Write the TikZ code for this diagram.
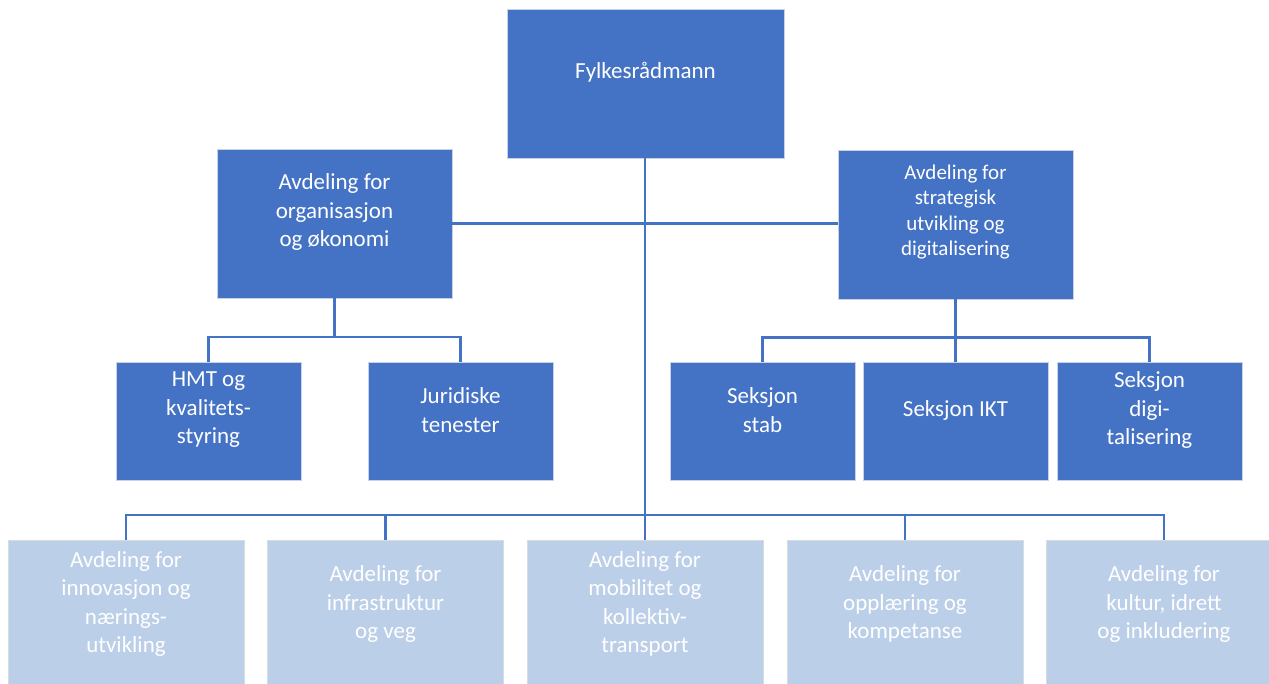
\documentclass[tikz,border=0pt]{standalone}
\usepackage{fontspec}
\setmainfont{Carlito}
\definecolor{dkblue}{HTML}{4472C4}
\definecolor{ltblue}{HTML}{BCCFE8}
\definecolor{rim}{HTML}{C8D2E4}
\definecolor{lrim}{HTML}{D6DCE4}
\begin{document}
\begin{tikzpicture}[x=1pt,y=-1pt,
  dbox/.style={draw=rim, line width=0.8pt, fill=dkblue, inner sep=0pt, outer sep=0pt},
  lbox/.style={draw=lrim, line width=0.8pt, fill=ltblue, inner sep=0pt, outer sep=0pt,
    minimum width=236pt, minimum height=148pt},
  txt/.style={text=white, align=center, inner sep=0pt, font=\fontsize{23}{28.5}\selectfont},
  stxt/.style={text=white, align=center, inner sep=0pt, font=\fontsize{21}{25.5}\selectfont},
  conn/.style={draw=dkblue, line width=2.4pt}]
\useasboundingbox (0,0) rectangle (1269,683);
% boxes
\node[dbox, minimum width=277pt, minimum height=149pt] (top) at (645.5,83.5) {};
\node[dbox, minimum width=235pt, minimum height=149pt] (L) at (334.5,223.5) {};
\node[dbox, minimum width=235pt, minimum height=149pt] (R) at (955.5,224.5) {};
\node[dbox, minimum width=185pt, minimum height=118pt] (hmt) at (208.5,421) {};
\node[dbox, minimum width=185pt, minimum height=118pt] (jur) at (460.5,421) {};
\node[dbox, minimum width=185pt, minimum height=118pt] (stab) at (762.5,421) {};
\node[dbox, minimum width=185pt, minimum height=118pt] (ikt) at (955.5,421) {};
\node[dbox, minimum width=185pt, minimum height=118pt] (digi) at (1149.5,421) {};
\node[lbox] (b1) at (126,614) {};
\node[lbox] (b2) at (385.5,614) {};
\node[lbox] (b3) at (645,614) {};
\node[lbox] (b4) at (905,614) {};
\node[lbox] (b5) at (1164,614) {};
% texts
\node[txt] (topt) at (645.5,72) {Fylkesrådmann};
\node[txt] (Lt) at (334.5,212) {Avdeling for\\organisasjon\\og økonomi};
\node[stxt] (Rt) at (955.5,212) {Avdeling for\\strategisk\\utvikling og\\digitalisering};
\node[txt] (hmtt) at (208.5,410) {HMT og\\kvalitets-\\styring};
\node[txt] (jurt) at (460.5,410) {Juridiske\\tenester};
\node[txt] (stabt) at (762.5,410) {Seksjon\\stab};
\node[txt] (iktt) at (955.5,410) {Seksjon IKT};
\node[txt] (digit) at (1149.5,410) {Seksjon\\digi-\\talisering};
\node[txt] (b1t) at (126,604) {Avdeling for\\innovasjon og\\nærings-\\utvikling};
\node[txt] (b2t) at (385.5,604) {Avdeling for\\infrastruktur\\og veg};
\node[txt] (b3t) at (645,604) {Avdeling for\\mobilitet og\\kollektiv-\\transport};
\node[txt] (b4t) at (905,604) {Avdeling for\\opplæring og\\kompetanse};
\node[txt] (b5t) at (1164,604) {Avdeling for\\kultur, idrett\\og inkludering};
% connectors
\coordinate (busB) at (645,515);
\coordinate (busL) at (335,337);
\coordinate (busR) at (956,337.5);
\draw[conn] (L.east) -- (L.east -| R.west);
\draw[conn] (top.south -| b3.north) -- (b3.north);
\draw[conn] (b1.north) -- (b1.north |- busB) -| (b5.north);
\draw[conn] (b2.north) -- (b2.north |- busB);
\draw[conn] (b4.north) -- (b4.north |- busB);
\draw[conn] (L.south) -- (L.south |- busL);
\draw[conn] (hmt.north) -- (hmt.north |- busL) -| (jur.north);
\draw[conn] (R.south) -- (R.south |- busR);
\draw[conn] (stab.north) -- (stab.north |- busR) -| (digi.north);
\draw[conn] (ikt.north) -- (ikt.north |- busR);
\end{tikzpicture}
\end{document}
